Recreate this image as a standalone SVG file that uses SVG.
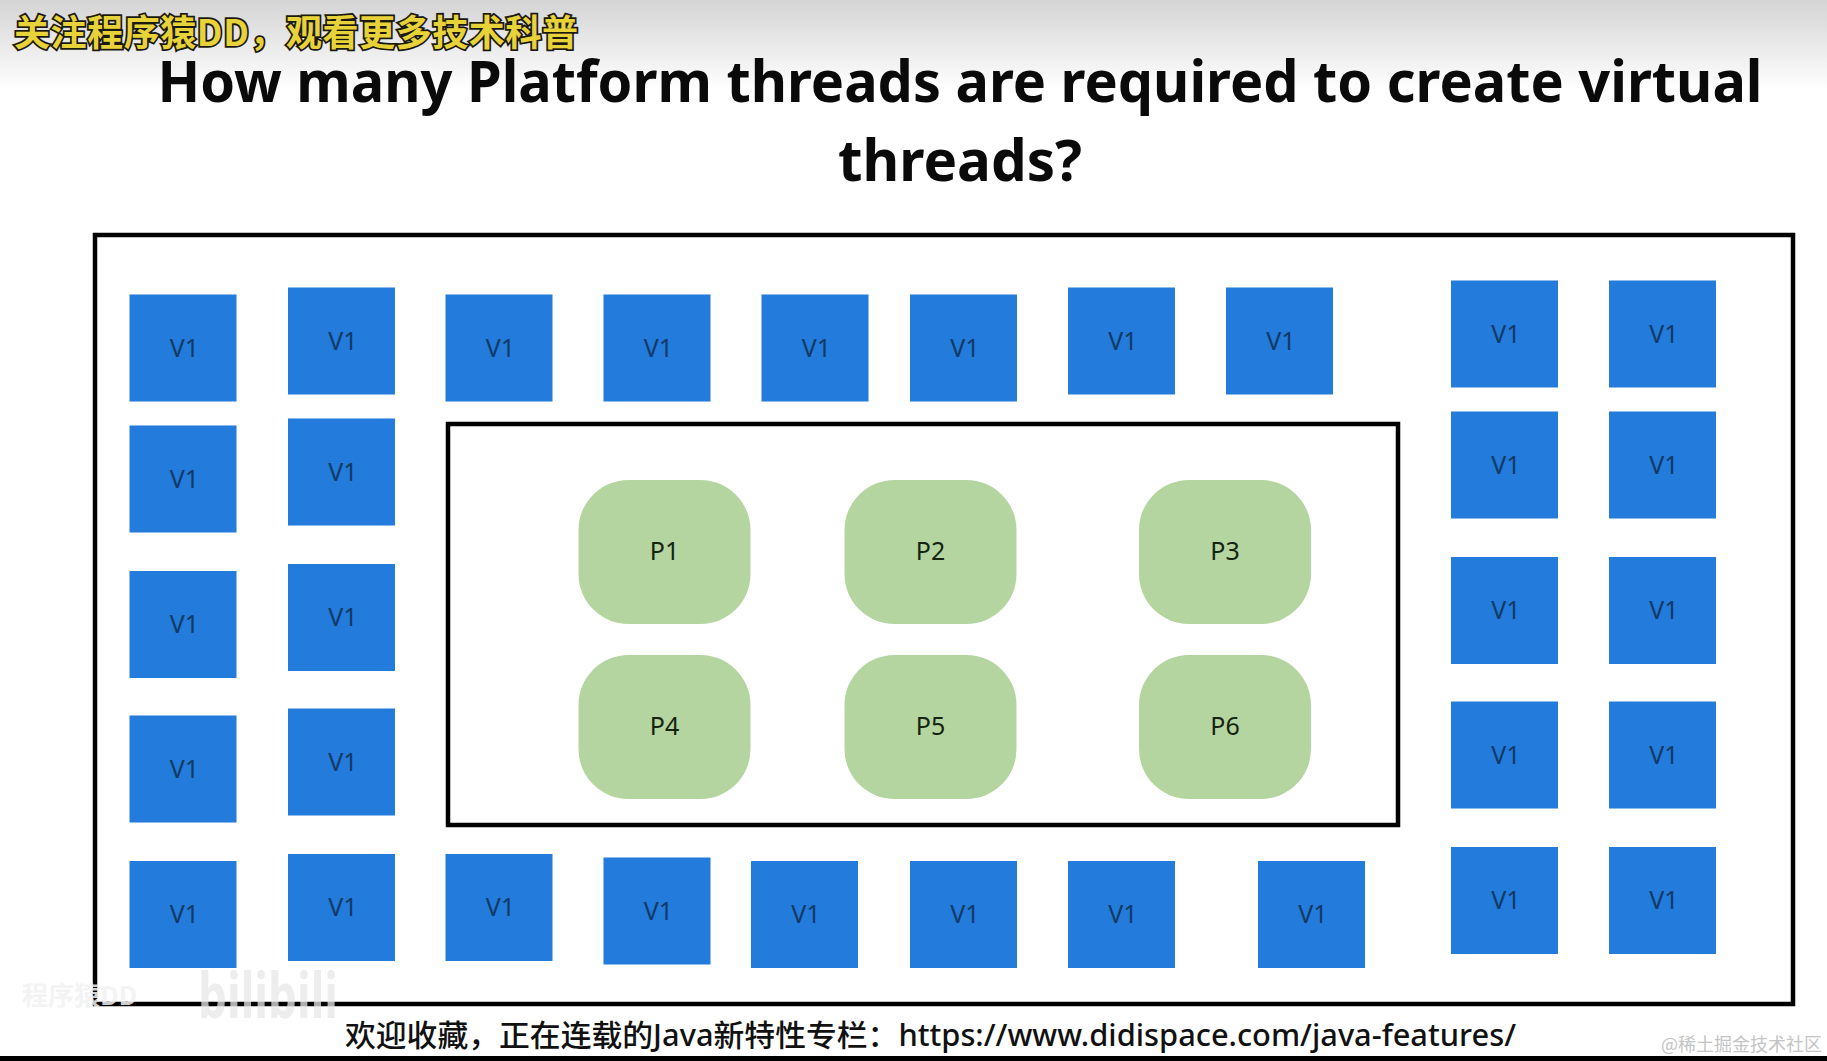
<svg xmlns="http://www.w3.org/2000/svg" width="1827" height="1061" viewBox="0 0 1827 1061">
<style>
.vr{fill:#237bdc}
.vt{font:25px "Noto Sans",sans-serif;fill:#123a66;text-anchor:middle}
.pr{fill:#b4d5a0}
.pt{font:25px "Noto Sans",sans-serif;fill:#14240f;text-anchor:middle}
.frame{fill:none;stroke:#000;stroke-width:4.500}
.title{font:700 56.500px "Noto Sans",sans-serif;fill:#0a0a0a;text-anchor:middle}
</style>
<defs>
<linearGradient id="top" x1="0" y1="0" x2="0" y2="1"><stop offset="0" stop-color="#d4d4d4"/><stop offset="1" stop-color="#fff"/></linearGradient>
<g id="vb"><rect class="vr" x="-53.500" y="-53.500" width="107" height="107"/><text class="vt" x="1.500" y="8.500">V1</text></g>
<rect id="pb" class="pr" x="-86" y="-72" width="172" height="144" rx="50"/>
</defs>
<rect width="1827" height="1061" fill="#fff"/>
<rect width="1827" height="90" fill="url(#top)"/>
<rect y="1056" width="1827" height="5" fill="#000"/>
<text class="title" x="960" y="102" textLength="1605" lengthAdjust="spacingAndGlyphs">How many Platform threads are required to create virtual</text>
<text class="title" x="960" y="181">threads?</text>
<text x="14" y="46" font-family="'Noto Sans CJK SC',sans-serif" font-weight="700" font-size="36" fill="#e8d23a" stroke="#1a1a10" stroke-width="3.500" paint-order="stroke" textLength="564">关注程序猿DD，观看更多技术科普</text>
<rect class="frame" x="95" y="235" width="1698" height="769"/>
<rect class="frame" x="448" y="424" width="950" height="401"/>
<g id="threads">
<use id="v01" href="#vb" x="183" y="348"/>
<use id="v02" href="#vb" x="341.500" y="341"/>
<use id="v03" href="#vb" x="499" y="348"/>
<use id="v04" href="#vb" x="657" y="348"/>
<use id="v05" href="#vb" x="815" y="348"/>
<use id="v06" href="#vb" x="963.500" y="348"/>
<use id="v07" href="#vb" x="1121.500" y="341"/>
<use id="v08" href="#vb" x="1279.500" y="341"/>
<use id="v09" href="#vb" x="1504.500" y="334"/>
<use id="v10" href="#vb" x="1662.500" y="334"/>
<use id="v11" href="#vb" x="183" y="479"/>
<use id="v12" href="#vb" x="341.500" y="472"/>
<use id="v13" href="#vb" x="1504.500" y="465"/>
<use id="v14" href="#vb" x="1662.500" y="465"/>
<use id="v15" href="#vb" x="183" y="624.500"/>
<use id="v16" href="#vb" x="341.500" y="617.500"/>
<use id="v17" href="#vb" x="1504.500" y="610.500"/>
<use id="v18" href="#vb" x="1662.500" y="610.500"/>
<use id="v19" href="#vb" x="183" y="769"/>
<use id="v20" href="#vb" x="341.500" y="762"/>
<use id="v21" href="#vb" x="1504.500" y="755"/>
<use id="v22" href="#vb" x="1662.500" y="755"/>
<use id="v23" href="#vb" x="183" y="914.500"/>
<use id="v24" href="#vb" x="341.500" y="907.500"/>
<use id="v25" href="#vb" x="499" y="907.500"/>
<use id="v26" href="#vb" x="657" y="911"/>
<use id="v27" href="#vb" x="804.500" y="914.500"/>
<use id="v28" href="#vb" x="963.500" y="914.500"/>
<use id="v29" href="#vb" x="1121.500" y="914.500"/>
<use id="v30" href="#vb" x="1311.500" y="914.500"/>
<use id="v31" href="#vb" x="1504.500" y="900.500"/>
<use id="v32" href="#vb" x="1662.500" y="900.500"/>
</g>
<g id="p1"><use href="#pb" x="664.500" y="552"/><text class="pt" x="664.500" y="560">P1</text></g>
<g id="p2"><use href="#pb" x="930.500" y="552"/><text class="pt" x="930.500" y="560">P2</text></g>
<g id="p3"><use href="#pb" x="1225" y="552"/><text class="pt" x="1225" y="560">P3</text></g>
<g id="p4"><use href="#pb" x="664.500" y="727"/><text class="pt" x="664.500" y="735">P4</text></g>
<g id="p5"><use href="#pb" x="930.500" y="727"/><text class="pt" x="930.500" y="735">P5</text></g>
<g id="p6"><use href="#pb" x="1225" y="727"/><text class="pt" x="1225" y="735">P6</text></g>
<text x="345" y="1046" font-family="'Noto Sans','Noto Sans CJK SC',sans-serif" font-weight="500" font-size="30" fill="#111" textLength="1171" lengthAdjust="spacingAndGlyphs">欢迎收藏，正在连载的Java新特性专栏：https://www.didispace.com/java-features/</text>
<text x="1661" y="1051" font-family="'Noto Sans CJK SC',serif" font-size="18" fill="#c4c4c4">@稀土掘金技术社区</text>
<text x="22" y="1005" font-family="'Noto Sans CJK SC',sans-serif" font-size="26" font-weight="700" fill="#f2f2f2" opacity="0.85">程序猿DD</text>
<text x="198" y="1018" font-family="'Noto Sans',sans-serif" font-size="62" font-weight="700" fill="#e8e8e8" opacity="0.75" textLength="140" lengthAdjust="spacingAndGlyphs">bilibili</text>
</svg>
